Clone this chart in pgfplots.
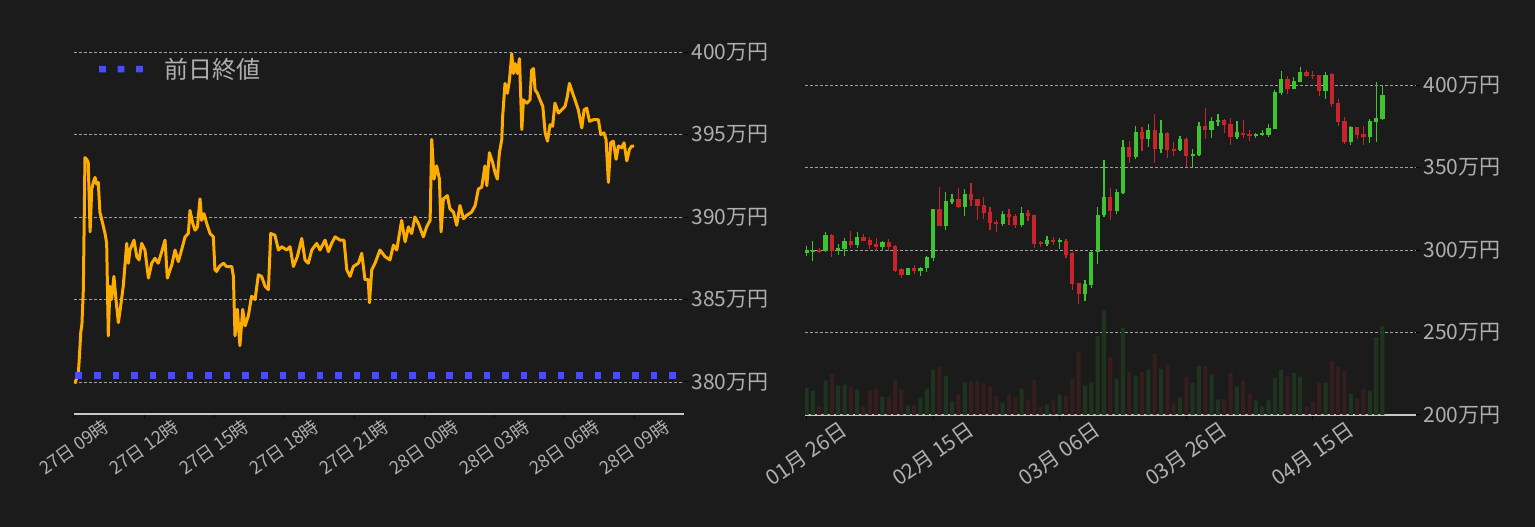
\documentclass[border=0pt]{standalone}
\usepackage{fontspec}
\setmainfont{Noto Sans CJK JP}
\usepackage{pgfplots}
\usepackage{pgfplotstable}
\pgfplotsset{compat=1.18}

\definecolor{bg}{RGB}{27,27,27}
\definecolor{gridc}{RGB}{160,160,160}
\definecolor{axc}{RGB}{200,200,200}
\definecolor{labc}{RGB}{175,175,175}
\definecolor{orangec}{RGB}{255,172,0}
\definecolor{prevc}{RGB}{74,76,250}
\definecolor{upc}{RGB}{62,196,48}
\definecolor{dnc}{RGB}{200,36,46}
\definecolor{upv}{RGB}{31,52,31}
\definecolor{dnv}{RGB}{54,30,30}

% intraday price, hours after 27日 09時, in 万円
\pgfplotstableread{
h v
0.04 379.9
0.19 380.6
0.23 381.5
0.29 383.0
0.34 383.5
0.40 385.6
0.43 389.0
0.47 393.6
0.54 393.5
0.61 393.3
0.69 389.1
0.76 391.7
0.83 392.1
0.90 392.4
0.97 392.0
1.04 392.1
1.11 390.3
1.23 389.6
1.33 389.0
1.40 388.4
1.47 382.8
1.54 385.8
1.61 385.0
1.71 386.4
1.80 385.0
1.90 383.6
2.00 384.6
2.11 385.8
2.26 388.4
2.33 387.2
2.40 388.0
2.57 388.6
2.69 387.6
2.79 387.4
2.90 388.4
3.04 388.0
3.19 386.3
3.33 387.2
3.47 387.5
3.61 387.2
3.76 387.9
3.90 388.6
4.00 386.3
4.19 387.1
4.33 388.0
4.47 387.3
4.61 388.0
4.76 388.8
4.90 389.0
4.97 390.4
5.09 389.6
5.19 389.2
5.29 389.4
5.40 391.1
5.47 389.8
5.57 390.2
5.69 389.6
5.83 389.0
5.97 388.8
6.04 386.8
6.11 386.7
6.23 387.0
6.40 387.2
6.54 387.0
6.76 387.0
6.83 386.4
6.90 382.8
7.00 384.4
7.11 382.2
7.23 384.4
7.33 383.4
7.47 384.0
7.61 385.2
7.76 385.0
7.90 386.5
8.04 386.4
8.19 385.8
8.33 385.6
8.43 389.0
8.61 388.9
8.76 388.0
8.90 388.2
9.11 388.0
9.26 388.2
9.40 387.0
9.57 387.6
9.76 388.7
9.90 387.4
10.04 387.2
10.19 388.0
10.40 388.4
10.54 388.0
10.76 388.6
10.90 387.9
11.04 388.4
11.19 388.8
11.40 388.6
11.57 388.6
11.69 386.8
11.83 386.4
11.97 387.0
12.19 387.2
12.33 387.8
12.47 386.2
12.61 386.2
12.66 384.8
12.76 386.8
12.90 387.2
13.11 388.0
13.33 387.6
13.54 387.4
13.69 388.3
13.83 388.0
14.04 389.8
14.19 388.5
14.33 389.4
14.47 389.0
14.61 390.0
14.76 389.6
14.97 388.8
15.11 389.4
15.26 389.8
15.33 394.7
15.43 392.3
15.54 393.1
15.66 392.3
15.73 389.1
15.83 391.1
16.00 391.3
16.11 390.5
16.26 390.3
16.40 389.5
16.54 390.7
16.69 389.9
16.83 390.1
17.04 390.3
17.19 390.7
17.33 391.7
17.47 391.8
17.61 393.1
17.69 391.9
17.80 393.9
17.94 393.3
18.04 392.7
18.14 392.3
18.23 393.9
18.33 394.7
18.37 396.1
18.47 398.1
18.57 397.5
18.66 398.3
18.76 399.9
18.83 398.7
18.90 399.3
19.00 398.7
19.09 399.6
19.19 395.3
19.26 397.1
19.40 396.9
19.54 397.1
19.61 398.9
19.69 399.0
19.76 397.7
19.86 397.5
19.97 397.1
20.09 396.7
20.19 395.1
20.29 394.6
20.40 395.6
20.51 395.5
20.61 396.9
20.76 396.3
20.90 396.5
21.04 396.7
21.14 397.3
21.23 398.1
21.37 397.5
21.47 397.1
21.61 396.5
21.76 395.4
21.86 396.5
21.97 396.6
22.09 395.8
22.26 395.9
22.47 395.9
22.57 395.0
22.71 395.1
22.80 394.7
22.90 392.1
23.00 394.5
23.11 394.6
23.23 393.5
23.33 394.3
23.47 394.2
23.57 394.5
23.69 393.4
23.80 394.1
23.90 394.3
24.00 394.3
}\intraday

% daily candles, days after 01月 26日: open high low close, volume bar top
\pgfplotstableread{
d o h l c v
0 298.0 302.6 296.2 299.8 216.6
1 299.2 305.6 293.2 300.0 214.8
2 300.0 301.4 298.0 299.4 205.2
3 299.2 311.0 299.0 309.0 220.8
4 309.2 309.8 295.6 299.2 225.0
5 299.2 303.8 297.2 301.4 217.8
6 300.8 307.4 296.2 305.6 218.4
7 305.6 311.6 301.4 303.2 217.2
8 303.2 311.0 301.4 308.0 215.4
9 308.0 309.8 305.2 305.6 205.2
10 306.2 308.0 300.8 303.2 214.8
11 303.8 307.4 299.2 302.0 216.0
12 302.0 305.6 299.2 305.0 211.2
13 305.0 306.8 299.2 302.0 211.2
14 302.6 303.2 286.4 287.0 221.4
15 288.2 289.4 283.0 284.6 215.4
16 284.6 288.8 284.6 288.8 205.8
17 288.8 291.2 285.2 287.0 205.8
18 287.0 290.0 284.0 289.4 210.6
19 288.8 296.6 286.4 296.0 216.0
20 295.4 324.8 293.6 324.8 227.4
21 324.8 338.0 314.6 314.6 229.2
22 314.6 335.0 312.2 329.6 223.8
23 329.0 333.8 327.8 330.8 208.2
24 330.8 337.4 325.4 326.0 212.4
25 326.0 336.8 320.6 333.8 219.6
26 333.8 340.4 326.6 330.2 220.8
27 330.8 330.8 318.2 326.6 220.8
28 327.2 332.0 318.8 322.4 219.0
29 323.0 326.0 312.2 316.4 217.2
30 317.0 318.2 311.0 315.8 211.8
31 315.8 323.6 314.6 321.8 207.6
32 321.8 324.8 315.2 320.0 212.4
33 320.6 321.8 313.4 315.2 210.6
34 315.2 326.0 314.0 322.4 216.0
35 322.4 324.2 317.6 320.6 209.4
36 321.2 321.2 301.4 303.8 221.4
37 305.0 305.6 302.0 303.8 205.2
38 303.8 308.6 302.6 306.2 206.4
39 306.2 308.0 303.2 305.0 208.8
40 305.2 307.4 300.8 305.6 212.4
41 305.6 306.8 295.4 297.2 211.8
42 298.4 299.0 275.6 279.2 222.0
43 279.8 279.8 267.2 273.2 238.2
44 273.2 281.6 269.0 279.2 217.8
45 278.6 299.6 276.8 299.0 219.6
46 299.0 326.0 291.8 321.2 247.8
47 321.0 354.4 319.8 332.2 263.4
48 332.2 337.6 318.0 323.8 235.2
49 323.8 337.0 322.0 335.2 222.0
50 334.6 366.4 334.0 362.2 252.6
51 362.2 365.8 352.6 356.2 226.2
52 356.2 375.4 355.0 371.8 223.8
53 371.8 374.8 359.8 367.0 226.2
54 367.0 376.6 362.2 373.0 227.4
55 373.0 382.6 352.6 361.0 237.0
56 361.0 379.0 358.6 371.2 228.0
57 371.2 371.8 355.6 360.4 230.4
58 361.0 365.2 356.8 360.6 207.0
59 360.4 369.4 359.8 367.0 210.6
60 367.0 368.8 350.2 356.8 223.2
61 357.0 361.0 350.2 358.0 219.6
62 357.4 377.8 356.8 375.4 229.8
63 375.4 386.2 367.0 373.0 229.8
64 373.0 380.8 367.6 378.4 224.4
65 377.8 382.6 375.4 379.0 209.4
66 379.0 379.6 371.2 376.0 209.4
67 376.6 380.2 363.4 368.2 225.6
68 368.2 378.4 367.0 371.8 217.2
69 371.2 379.0 367.6 370.0 220.8
70 370.6 373.0 365.8 369.4 213.0
71 369.4 371.2 367.6 370.6 208.8
72 370.0 373.0 369.4 370.6 205.2
73 370.0 376.6 368.2 374.2 208.8
74 373.6 397.0 373.6 395.8 222.6
75 395.2 408.4 394.0 403.6 227.4
76 403.6 405.4 394.6 397.6 223.2
77 397.6 404.8 397.6 402.4 225.6
78 401.8 410.8 401.8 407.8 223.2
79 407.8 409.0 404.8 405.4 205.2
80 406.0 408.4 403.6 405.6 208.2
81 406.0 406.0 393.4 396.4 219.6
82 396.4 407.8 391.6 406.0 219.6
83 406.6 407.2 386.8 388.6 232.8
84 389.2 391.6 375.4 377.8 229.2
85 378.4 380.8 364.0 365.2 226.8
86 365.2 375.4 363.4 374.8 213.0
87 374.8 374.8 367.0 370.0 210.0
88 370.6 375.4 363.4 368.8 216.0
89 368.8 379.6 364.6 378.4 214.8
90 377.8 401.8 365.2 380.2 247.2
91 379.6 400.0 379.0 394.0 253.8
}\daily

\pgfplotsset{
  up only/.style={x filter/.code={%
    \let\xo\pgfmathresult
    \pgfmathparse{\thisrow{c}>=\thisrow{o}}%
    \pgfmathfloattofixed{\pgfmathresult}%
    \ifdim\pgfmathresult pt<0.5pt \def\pgfmathresult{inf}\else\let\pgfmathresult\xo\fi}},
  down only/.style={x filter/.code={%
    \let\xo\pgfmathresult
    \pgfmathparse{\thisrow{c}>=\thisrow{o}}%
    \pgfmathfloattofixed{\pgfmathresult}%
    \ifdim\pgfmathresult pt>0.5pt \def\pgfmathresult{inf}\else\let\pgfmathresult\xo\fi}},
  dark chart/.style={
    scale only axis,
    axis x line*=bottom,
    axis y line*=right,
    x axis line style={axc, line width=2.5pt},
    y axis line style={draw=none},
    tick style={black, line width=1pt},
    major tick length=4pt,
    tick align=outside,
    ymajorgrids,
    grid style={gridc, line width=0.7pt, dash pattern=on 3pt off 2pt},
    ticklabel style={labc},
    yticklabel style={font=\fontsize{21}{21}\selectfont},
  },
  % candle parts: error bars only, no visible marks
  candle/.style 2 args={only marks, mark=*, mark size=0pt,
    mark options={draw=none, fill=none}, forget plot,
    error bars/.cd, y dir=both, y explicit, error mark=none,
    error bar style={#1, line width=#2}},
}

\begin{document}
\begin{tikzpicture}
\fill[bg] (0,0) rectangle (1535pt,527pt);

% left: intraday line
\begin{axis}[dark chart,
  at={(74pt,113pt)}, anchor=south west,
  width=610pt, height=374pt,
  xmin=0, xmax=26.14, ymin=378.06, ymax=400.73,
  xtick={0,3,...,24},
  xticklabels={27日 09時,27日 12時,27日 15時,27日 18時,27日 21時,28日 00時,28日 03時,28日 06時,28日 09時},
  xticklabel style={font=\fontsize{18}{18}\selectfont, yshift=-29pt, rotate=35, anchor=center},
  ytick={380,385,390,395,400},
  yticklabels={380万円,385万円,390万円,395万円,400万円},
  legend style={at={(0.041,0.922)}, anchor=west, draw=none, fill=none,
    text=labc, font=\fontsize{24}{24}\selectfont, inner sep=0pt,
    /tikz/every odd column/.append style={column sep=20pt}},
]
\addplot[orangec, line width=3pt, line join=round, forget plot] table[x=h, y=v] {\intraday};
\addplot[prevc, line width=6.6pt, dash pattern=on 6.6pt off 11.95pt,
  legend image code/.code={
    \path[fill=prevc, draw=none] (0pt,-3.3pt) rectangle (6.6pt,3.3pt)
      (18.5pt,-3.3pt) rectangle (25.1pt,3.3pt)
      (37pt,-3.3pt) rectangle (43.6pt,3.3pt);}]
  coordinates {(0.064,380.38) (25.8,380.38)};
\addlegendentry{前日終値}
\end{axis}

% right: daily candles with volume
\begin{axis}[dark chart,
  at={(805pt,112pt)}, anchor=south west,
  width=611pt, height=375pt,
  xmin=-0.24, xmax=96.3, ymin=200, ymax=427.3,
  xtick={0,20,40,60,80},
  xticklabels={01月 26日,02月 15日,03月 06日,03月 26日,04月 15日},
  xticklabel style={font=\fontsize{21}{21}\selectfont, yshift=-35pt, rotate=35, anchor=center},
  ytick={200,250,300,350,400},
  yticklabels={200万円,250万円,300万円,350万円,400万円},
]
\addplot[ybar, bar width=4pt, bar shift=0pt, fill=upv, draw=none, forget plot, up only]
  table[x=d, y=v] {\daily};
\addplot[ybar, bar width=4pt, bar shift=0pt, fill=dnv, draw=none, forget plot, down only]
  table[x=d, y=v] {\daily};
\addplot[up only, candle={upc}{1.2pt}] table[x=d, y expr={(\thisrow{h}+\thisrow{l})/2},
  y error expr={(\thisrow{h}-\thisrow{l})/2}] {\daily};
\addplot[down only, candle={dnc}{1.2pt}] table[x=d, y expr={(\thisrow{h}+\thisrow{l})/2},
  y error expr={(\thisrow{h}-\thisrow{l})/2}] {\daily};
\addplot[up only, candle={upc}{4.2pt}] table[x=d, y expr={(\thisrow{o}+\thisrow{c})/2},
  y error expr={max(abs(\thisrow{c}-\thisrow{o})/2,0.4)}] {\daily};
\addplot[down only, candle={dnc}{4.2pt}] table[x=d, y expr={(\thisrow{o}+\thisrow{c})/2},
  y error expr={max(abs(\thisrow{c}-\thisrow{o})/2,0.4)}] {\daily};
\end{axis}

\pgfresetboundingbox
\path (0,0) rectangle (1535pt,527pt);
\end{tikzpicture}
\end{document}
